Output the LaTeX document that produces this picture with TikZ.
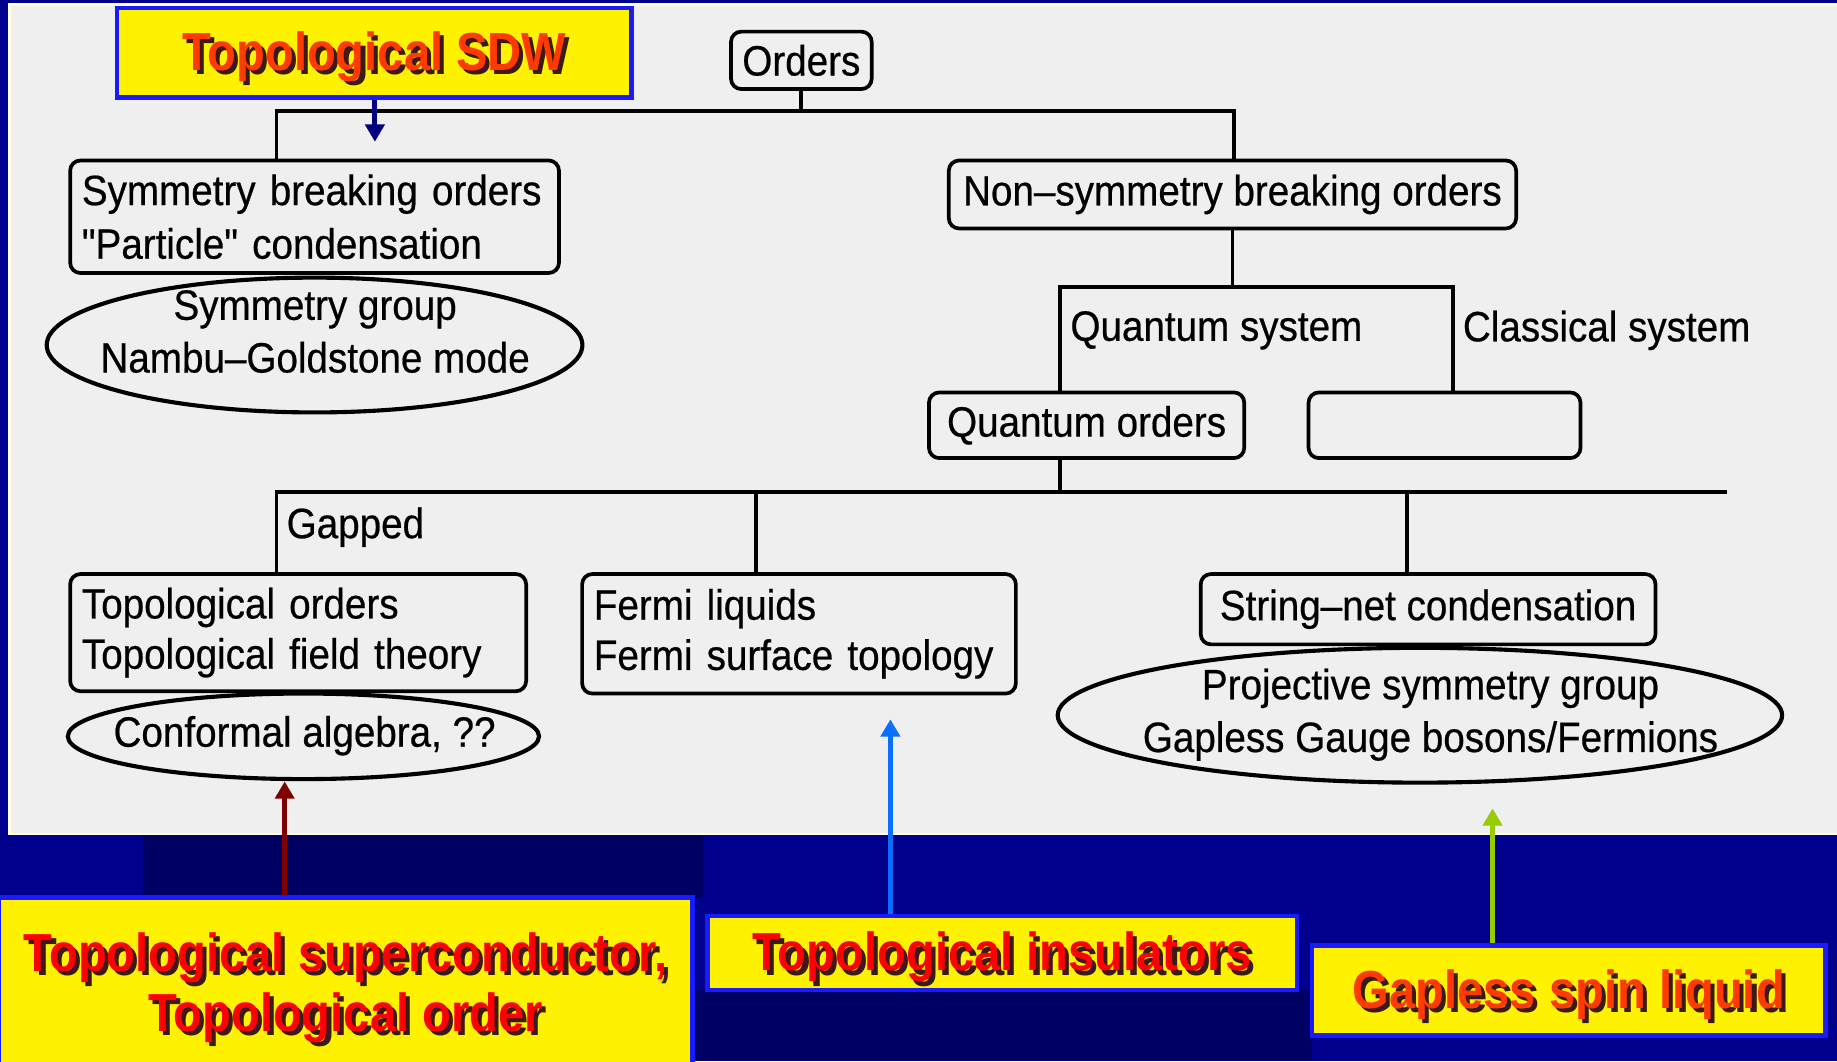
\documentclass[tikz,border=0pt]{standalone}
\usepackage{fontspec}
\setmainfont{Liberation Sans}
\newfontfamily\diagfont[FakeStretch=0.91,FakeBold=0.5]{Liberation Sans}
\newfontfamily\condfont[FakeStretch=0.88]{Liberation Sans}
\usetikzlibrary{arrows.meta,shapes.geometric}
\definecolor{navy}{HTML}{00008C}
\definecolor{darknavy}{HTML}{000062}
\definecolor{panel}{HTML}{EFEFEF}
\definecolor{panelrim}{HTML}{FFFFE0}
\definecolor{bborder}{HTML}{1A1AFF}
\definecolor{redtxt}{HTML}{FF0000}
\definecolor{orangetxt}{HTML}{FF3A00}
\definecolor{shadowc}{HTML}{3A1A1A}
\definecolor{maroonc}{HTML}{800000}
\definecolor{skyc}{HTML}{0A6EFF}
\definecolor{limec}{HTML}{99CC00}
\definecolor{navyarrow}{HTML}{000080}
\newcommand\shtext[2]{\leavevmode\raisebox{-1.5pt}[\height][\depth]{\rlap{\kern1pt\raisebox{-1pt}{\color{shadowc}#2}}{\color{#1}#2}}}
\begin{document}
\begin{tikzpicture}[x=0.01cm, y=-0.01cm,
  box/.style={draw=black, line width=0.9pt, rounded corners=2.5pt, fill=panel, inner sep=0pt, font=\diagfont\fontsize{10.3}{13}\selectfont},
  ell/.style={draw=black, line width=1pt, ellipse, fill=panel, inner sep=0pt},
  txt/.style={inner sep=0pt, align=center, font=\diagfont\fontsize{10.3}{12.2}\selectfont},
  wire/.style={draw=black, line width=0.9pt},
  lbl/.style={font=\diagfont\fontsize{10.3}{12}\selectfont, anchor=west, inner sep=0pt},
  callout/.style={draw=bborder, line width=1.1pt, fill=yellow, inner sep=0pt, align=center, font=\condfont\bfseries\fontsize{13}{14}\selectfont},
  pointer/.style={line width=1.2pt, -{Triangle[length=4.2pt,width=4.6pt]}}
]
\useasboundingbox (0,0) rectangle (1568,906);
% background
\fill[navy] (0,0) rectangle (1568,906);
\fill[darknavy] (122,712) rectangle (600,766);
\fill[darknavy] (590,845) rectangle (1120,906);
\filldraw[fill=panel, draw=panelrim, line width=0.6pt] (8,4) rectangle (1570,712);

% tree boxes
\node[box, minimum width=1.20cm, minimum height=0.49cm] (orders) at (684,51.5) {Orders};
\node[box, minimum width=4.17cm, minimum height=0.96cm, text width=3.97cm, align=left] (sym) at (268.5,185)
  {Symmetry breaking orders\\"Particle" condensation};
\node[ell, minimum width=4.57cm, minimum height=1.15cm] (ell1) at (268.5,294.5) {};
\node[txt] (ell1t) at (269,283) {Symmetry group\\[0.6pt]Nambu–Goldstone mode};
\node[box, minimum width=4.84cm, minimum height=0.58cm] (nonsym) at (1052,166) {Non–symmetry breaking orders};
\node[box, minimum width=2.69cm, minimum height=0.56cm] (qorders) at (927.5,363) {Quantum orders};
\node[box, minimum width=2.32cm, minimum height=0.56cm] (empty) at (1233,363) {};
\node[box, minimum width=3.89cm, minimum height=1.00cm, text width=3.69cm, align=left, font=\diagfont\fontsize{10.3}{12.2}\selectfont] (topo) at (254.5,540)
  {Topological orders\\Topological field theory};
\node[ell, minimum width=4.02cm, minimum height=0.73cm] (ell2) at (259,628.5) {};
\node[txt] (ell2t) at (260,628) {Conformal algebra, ??};
\node[box, minimum width=3.70cm, minimum height=1.02cm, text width=3.50cm, align=left, font=\diagfont\fontsize{10.3}{12.2}\selectfont] (fermi) at (682,541)
  {Fermi liquids\\Fermi surface topology};
\node[box, minimum width=3.88cm, minimum height=0.60cm] (string) at (1219,520) {String–net condensation};
\node[ell, minimum width=6.18cm, minimum height=1.15cm] (ell3) at (1212,610.5) {};
\node[txt] (ell3t) at (1221,610) {Projective symmetry group\\[0.6pt]Gapless Gauge bosons/Fermions};

% connectors
\coordinate (b1L) at (236,95);
\coordinate (b1R) at (1053,95);
\draw[wire] (orders.south) -- (orders.south |- b1L);
\draw[wire] (b1L |- sym.north) -- (b1L) -- (b1R) -- (b1R |- nonsym.north);
\coordinate (b2L) at (905,245);
\coordinate (b2R) at (1240,245);
\draw[wire] (nonsym.south) -- (nonsym.south |- b2L);
\draw[wire] (b2L |- qorders.north) -- (b2L) -- (b2R) -- (b2R |- empty.north);
\node[lbl] (qsys) at (913,282) {Quantum system};
\node[lbl] (csys) at (1248,282) {Classical system};
\coordinate (b3L) at (236,420);
\coordinate (b3R) at (1474,420);
\coordinate (b3F) at (645,420);
\coordinate (b3S) at (1201,420);
\draw[wire] (b2L |- qorders.south) -- (b2L |- b3L);
\draw[wire] (b3L |- topo.north) -- (b3L) -- (b3R);
\draw[wire] (b3F) -- (b3F |- fermi.north);
\draw[wire] (b3S) -- (b3S |- string.north);
\node[lbl] (gapped) at (244,450) {Gapped};

% callouts
\node[callout, minimum width=4.39cm, minimum height=0.76cm] (sdw) at (319.5,45) {\shtext{orangetxt}{Topological SDW}};
\node[callout, minimum width=5.92cm, minimum height=1.47cm, font=\condfont\bfseries\fontsize{13}{14.5}\selectfont] (tsc) at (295,839.5)
  {\shtext{redtxt}{Topological superconductor,}\\\shtext{redtxt}{Topological order}};
\node[callout, minimum width=5.03cm, minimum height=0.63cm] (ins) at (855.5,813.5) {\shtext{redtxt}{Topological insulators}};
\node[callout, minimum width=4.38cm, minimum height=0.77cm] (gsl) at (1339,845.5) {\shtext{orangetxt}{Gapless spin liquid}};

% pointers
\coordinate (tipS) at (320,121);
\coordinate (tipA) at (243,667);
\coordinate (tipB) at (760,614);
\coordinate (tipC) at (1274,690);
\draw[pointer, navyarrow] (sdw.south -| tipS) -- (tipS);
\draw[pointer, maroonc] (tsc.north -| tipA) -- (tipA);
\draw[pointer, skyc] (ins.north -| tipB) -- (tipB);
\draw[pointer, limec] (gsl.north -| tipC) -- (tipC);
\end{tikzpicture}
\end{document}
